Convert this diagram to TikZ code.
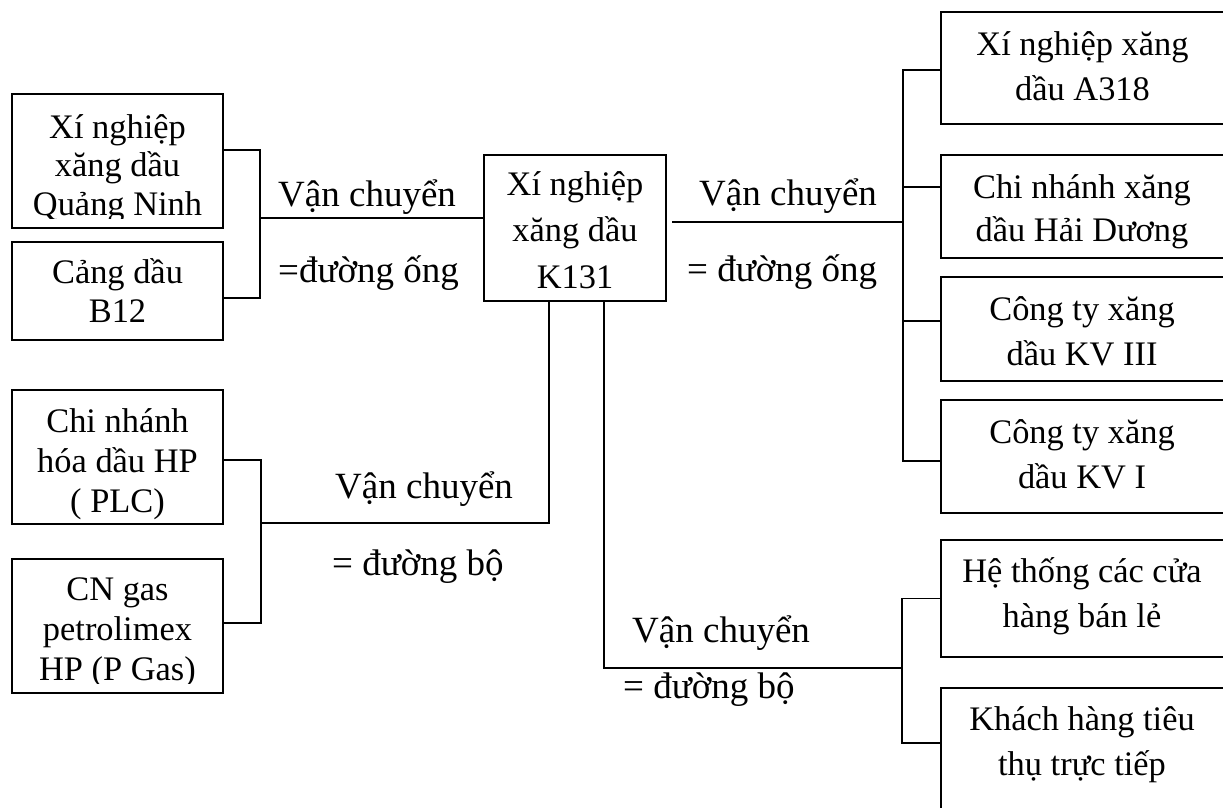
\documentclass[tikz,border=0pt]{standalone}
\usepackage{fontspec}
\setmainfont{Liberation Serif}
\tikzset{
  box/.style={draw, line width=2pt, inner sep=0pt, outer sep=0pt},
  link/.style={draw, line width=1.8pt},
  lbl/.style={anchor=base, inner sep=0pt, font=\fontsize{34.4}{40}\selectfont},
  modelabel/.style={anchor=base west, inner sep=0pt, font=\fontsize{37}{40}\selectfont},
}
% one centred text line per list item: name, x, first baseline, line step, lines
\newcommand\boxlines[5]{%
  \foreach \t [count=\i] in {#5} {\node[lbl] (#1-\i) at (#2,{#3+(\i-1)*#4}) {\t};}}
\begin{document}
\begin{tikzpicture}[x=1pt,y=-1pt]
\path[use as bounding box, fill=white] (0,0) rectangle (1223,807);

% suppliers (left)
\node[box, minimum width=211pt, minimum height=134pt] (qn)  at (117.5,161) {};
\node[box, minimum width=211pt, minimum height=98pt]  (b12) at (117.5,291) {};
\node[box, minimum width=211pt, minimum height=134pt] (plc) at (117.5,457) {};
\node[box, minimum width=211pt, minimum height=134pt] (cn)  at (117.5,626) {};
% depot
\node[box, minimum width=182pt, minimum height=146pt] (k131) at (575,228) {};
% receivers (right)
\node[box, minimum width=285pt, minimum height=112pt] (a318) at (1083.5,68) {};
\node[box, minimum width=285pt, minimum height=103pt] (hd)   at (1083.5,206.5) {};
\node[box, minimum width=285pt, minimum height=104pt] (kv3)  at (1083.5,329) {};
\node[box, minimum width=285pt, minimum height=113pt] (kv1)  at (1083.5,456.5) {};
\node[box, minimum width=285pt, minimum height=117pt] (ht)   at (1083.5,598.5) {};
\node[box, minimum width=285pt, minimum height=162pt] (kh)   at (1083.5,769) {};

% box texts
\begin{scope}
  \clip ([yshift=10pt]qn.south west) rectangle (qn.north east);
  \boxlines{qn}{117.5}{138}{38.5}{Xí nghiệp,xăng dầu,Quảng Ninh}
\end{scope}
\boxlines{b12}{117.5}{283}{39}{Cảng dầu,B12}
\boxlines{plc}{117.5}{432}{40}{Chi nhánh,hóa dầu HP,{( PLC)}}
\begin{scope}
  \clip ([yshift=10pt]cn.south west) rectangle (cn.north east);
  \boxlines{cn}{117.5}{600}{40}{CN gas,petrolimex,{HP (P Gas)}}
\end{scope}
\boxlines{k131}{575}{195}{46.5}{Xí nghiệp,xăng dầu,K131}
\boxlines{a318}{1082.5}{55}{45}{Xí nghiệp xăng,dầu A318}
\begin{scope}
  \clip ([yshift=10pt]hd.south west) rectangle (hd.north east);
  \boxlines{hd}{1082}{198}{43}{Chi nhánh xăng,dầu Hải Dương}
\end{scope}
\boxlines{kv3}{1082}{320}{45}{Công ty xăng,dầu KV III}
\boxlines{kv1}{1082}{443}{45}{Công ty xăng,dầu KV I}
\boxlines{ht}{1082}{582}{45}{Hệ thống các cửa,hàng bán lẻ}
\boxlines{kh}{1082}{730}{45}{Khách hàng tiêu,thụ trực tiếp}

% connector end points
\path ([yshift=11pt]qn.east)    coordinate (qnC)
      ([yshift=-7pt]b12.east)   coordinate (b12C)
      ([yshift=-3pt]plc.east)   coordinate (plcC)
      ([yshift=3pt]cn.east)     coordinate (cnC)
      ([yshift=10pt]k131.west)  coordinate (kW)
      ([yshift=6pt]k131.east)   coordinate (kE)
      ([xshift=-26pt]k131.south) coordinate (kSL)
      ([xshift=29pt]k131.south)  coordinate (kSR)
      ([yshift=-2pt]a318.west)  coordinate (a318C)
      ([yshift=19.5pt]hd.west)  coordinate (hdC)
      ([yshift=8pt]kv3.west)    coordinate (kv3C)
      ([yshift=-4.5pt]kv1.west) coordinate (kv1C)
      (ht.west)                 coordinate (htC)
      ([yshift=26pt]kh.west)    coordinate (khC);
\coordinate (lbusA) at (260,218);
\coordinate (rbusA) at (903,222);
\coordinate (lbusB) at (261,523);
\coordinate (rbusB) at (902,668);

% pipeline in
\draw[link] (qnC) -| (lbusA |- b12C) -- (b12C);
\draw[link] (kW) -- (kW -| lbusA);
% pipeline out
\draw[link, shorten <=6pt] (kE) -- (kE -| rbusA);
\draw[link] (a318C) -| (rbusA |- kv1C) -- (kv1C);
\draw[link] (hdC) -- (hdC -| rbusA);
\draw[link] (kv3C) -- (kv3C -| rbusA);
% road in
\draw[link] (plcC) -| (lbusB |- cnC) -- (cnC);
\draw[link] (kSL) |- (lbusB);
% road out
\draw[link] (kSR) |- (rbusB);
\draw[link] (htC) -| (rbusB |- khC) -- (khC);

% transport labels
\node[modelabel] (v1) at (278,206) {Vận chuyển};
\node[modelabel] (d1) at (278,282) {=đường ống};
\node[modelabel] (v2) at (699,205) {Vận chuyển};
\node[modelabel] (d2) at (687,281) {= đường ống};
\node[modelabel] (v3) at (335,498) {Vận chuyển};
\node[modelabel] (d3) at (332,575) {= đường bộ};
\node[modelabel] (v4) at (632,642) {Vận chuyển};
\node[modelabel] (d4) at (623,698) {= đường bộ};
\end{tikzpicture}
\end{document}
